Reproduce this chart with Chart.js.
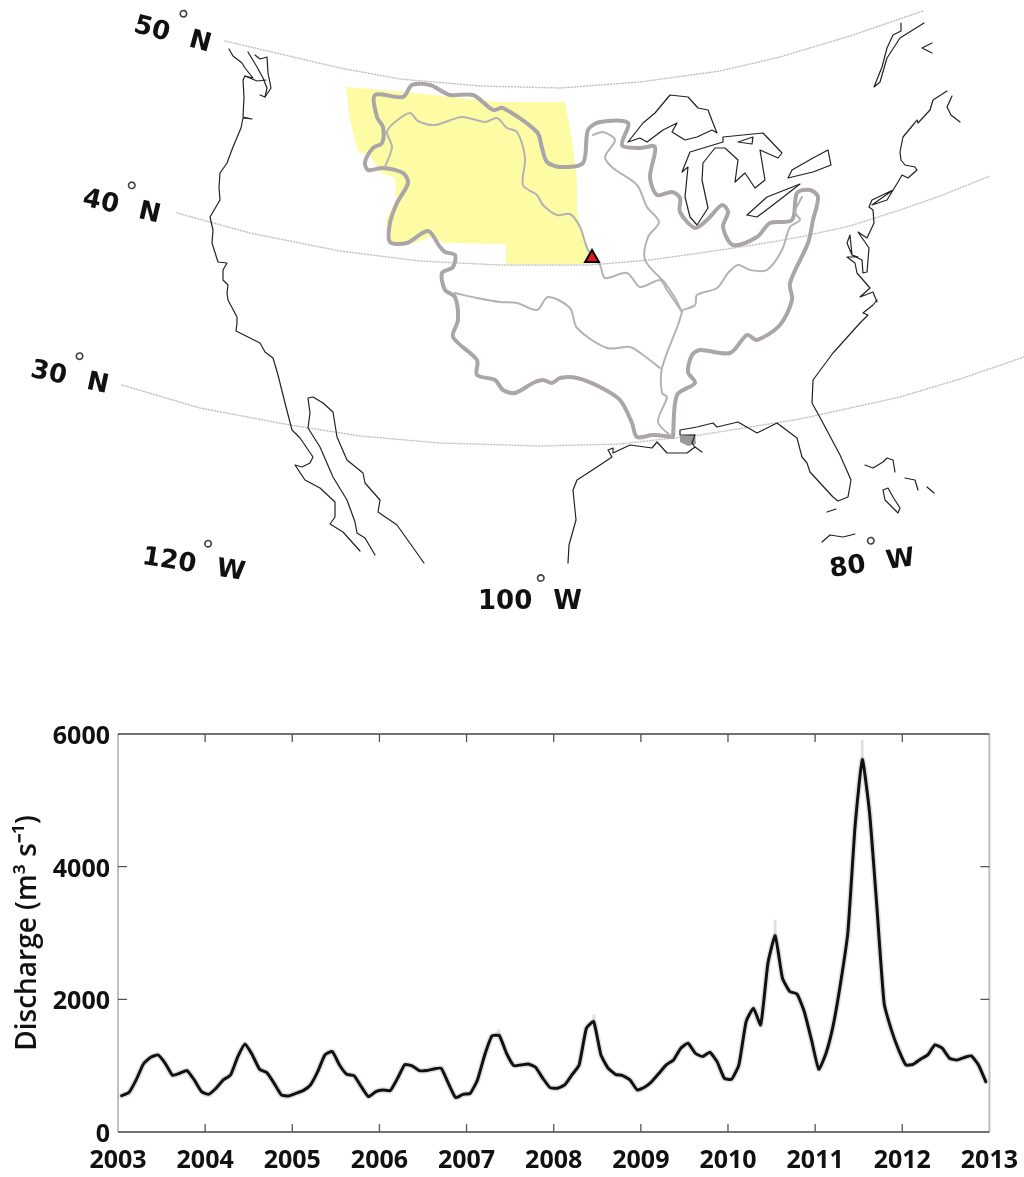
<!DOCTYPE html>
<html>
<head>
<meta charset="utf-8">
<title>Discharge</title>
<script src="https://cdn.jsdelivr.net/npm/chart.js@4/dist/chart.umd.min.js"></script>
<style>
  html, body { margin: 0; padding: 0; background: #fff; }
  #wrap { position: relative; width: 1024px; height: 1177px; overflow: hidden; }
  canvas { position: absolute; left: 0; filter: blur(0.5px); }
  #peta { top: 0; }
  #debit { top: 700px; }
</style>
</head>
<body>
<div id="wrap">
  <canvas id="peta" width="1024" height="700"></canvas>
  <canvas id="debit" width="1024" height="477"></canvas>
</div>
<script>
// monthly discharge, one list per year
const q2003 = [548, 594, 785, 1026, 1127, 1162, 1036, 855, 885, 926, 785, 609];
const q2004 = [568, 659, 785, 860, 1137, 1328, 1162, 946, 895, 734, 558, 543];
const q2005 = [583, 624, 709, 910, 1162, 1212, 1011, 870, 850, 684, 533, 609];
const q2006 = [634, 624, 810, 1016, 996, 926, 926, 951, 961, 734, 518, 568];
const q2007 = [583, 785, 1162, 1449, 1454, 1187, 1001, 1011, 1026, 976, 810, 669];
const q2008 = [659, 709, 860, 1011, 1564, 1665, 1162, 961, 870, 850, 785, 634];
const q2009 = [674, 760, 885, 1011, 1086, 1263, 1338, 1187, 1137, 1202, 1061, 810];
const q2010 = [795, 1011, 1665, 1866, 1615, 2545, 2958, 2319, 2118, 2082, 1816, 1388];
const q2011 = [946, 1187, 1615, 2243, 2998, 4607, 5613, 4809, 3400, 1942, 1539, 1237];
const q2012 = [1011, 1021, 1097, 1162, 1313, 1263, 1112, 1086, 1122, 1147, 1011, 760];
const qPerYear = [q2003, q2004, q2005, q2006, q2007, q2008, q2009, q2010, q2011, q2012];

// faint grey spread showing above the big peaks
const spreadYears = [2007.37, 2008.46, 2010.54, 2011.54];
const spreadLow = [1454, 1665, 2958, 5613];
const spreadHigh = [1530, 1760, 3180, 5900];

const yearTicks = [2003, 2004, 2005, 2006, 2007, 2008, 2009, 2010, 2011, 2012, 2013];
const dischargeTicks = [0, 2000, 4000, 6000];

// map outlines, in map units (x and y of the hidden map axes)
const parallel50 = [[225,41],[340,68],[400,79],[480,86],[560,88],[640,82],[720,71],[780,57],[850,36],[923,11]];
const parallel40 = [[177,213],[250,233],[340,251],[420,261],[500,265],[590,265],[650,260],[700,253],[760,244],[800,237],[850,226],[900,210],[940,196],[990,176]];
const parallel30 = [[122,385],[200,408],[290,425],[360,436],[440,443],[540,446],[620,444],[700,435],[800,419],[900,397],[960,379],[1024,357]];

const coastWest = [[229,49],[233,56],[242,63],[245,68],[253,78],[245,76],[243,80],[244,97],[243,117],[252,119],[243,118],[241,128],[233,147],[227,163],[220,173],[219,187],[220,200],[210,217],[213,230],[212,243],[218,262],[227,263],[223,270],[223,280],[228,285],[227,293],[228,300],[237,317],[237,323],[236,331],[260,343],[265,352],[273,358],[278,375],[285,403],[292,430],[300,438],[313,457],[310,463],[302,467],[295,465],[305,480],[320,488],[335,502],[335,517],[330,524],[343,532],[360,551]];
const puget = [[248,52],[257,67],[263,78],[267,88],[265,97],[260,95]];
const puget2 = [[255,55],[260,59],[267,57],[268,73],[271,88],[265,97]];
const puget3 = [[245,76],[257,81],[266,80]];
const baja = [[375,555],[365,538],[357,533],[355,522],[347,500],[333,477],[320,447],[308,428],[310,413],[308,398],[313,397],[323,403],[333,412],[337,437],[347,460],[363,473],[365,483],[380,500],[378,512],[397,525],[424,563]];
const coastGulf = [[568,563],[569,545],[576,520],[573,490],[577,480],[597,467],[612,457],[608,450],[613,448],[613,453],[630,445],[652,448],[657,442],[667,453],[687,453],[695,447],[702,452],[695,447],[692,443],[695,435],[680,435],[680,430],[697,427],[713,423],[717,427],[738,422],[757,433],[777,423],[797,438],[802,457],[807,463],[810,472],[833,497],[838,501],[848,497],[851,480],[840,455],[823,423],[812,403],[813,380],[833,353],[860,323],[868,315],[863,313],[873,305],[877,300]];
const coastEast = [[877,302],[873,292],[860,297],[870,288],[857,273],[855,263],[847,257],[858,257],[852,255],[847,243],[850,235],[852,255],[862,260],[863,273],[867,272],[869,248],[858,232],[867,238],[874,223],[873,210],[869,207],[872,200],[893,190],[887,200],[872,205],[893,190],[898,182],[902,175],[908,178],[917,170],[915,167],[905,165],[901,160],[900,152],[903,137],[913,125],[917,120],[918,123],[930,110],[933,100],[947,91]];
const novaScotia = [[952,96],[947,107],[951,115],[960,122]];
const newfoundland = [[932,43],[922,48],[932,53]];
const labrador = [[901,23],[901,31],[893,35],[887,48],[882,67],[874,87],[880,82],[887,58],[900,38],[924,23]];
const bahamas1 = [[865,465],[873,468],[883,462],[887,458],[893,460],[895,472]];
const bahamas2 = [[905,478],[915,480],[918,490]];
const bahamas3 = [[927,487],[934,493]];
const andros = [[883,490],[888,488],[893,497],[900,508],[898,513],[885,500],[883,490]];
const keys = [[827,512],[836,509]];
const cuba = [[822,542],[830,535],[843,537],[855,534]];

const lakeSuperior = [[628,142],[643,123],[655,113],[670,95],[688,97],[698,108],[708,110],[713,123],[717,133],[712,130],[697,137],[685,140],[672,132],[677,123],[663,130],[647,142],[640,138],[628,142]];
const lakeMichiganHuron = [[682,172],[690,152],[723,142],[723,137],[763,133],[782,153],[778,158],[760,150],[765,180],[755,188],[745,173],[735,182],[738,160],[725,148],[715,148],[703,163],[702,180],[708,208],[697,225],[690,217],[685,197],[688,167],[682,172]];
const manitoulin = [[738,142],[753,137],[752,144],[738,142]];
const lakeErie = [[747,215],[767,197],[800,184],[773,205],[757,217],[747,215]];
const lakeOntario = [[788,178],[792,170],[813,158],[828,150],[831,165],[813,172],[788,178]];

// yellow area upstream of the gauge
const yellowArea = [[346,87],[405,92],[498,102],[565,102],[572,140],[577,180],[577,213],[590,255],[590,264],[506,264],[506,244],[445,243],[430,237],[415,243],[388,244],[386,220],[396,200],[395,178],[380,172],[370,155],[358,152],[350,120]];
const deltaPatch = [[680,436],[695,434],[696,444],[688,446],[680,442]];

const basinEdge = [[673,437],[653,435],[637,437],[632,423],[620,400],[600,387],[577,378],[560,378],[552,383],[543,380],[533,383],[515,393],[503,390],[495,380],[477,375],[477,360],[453,337],[458,320],[455,297],[445,290],[442,273],[453,267],[455,255],[445,252],[440,247],[428,231],[407,243],[390,242],[390,223],[397,203],[408,183],[403,173],[383,168],[368,170],[365,162],[373,148],[382,143],[383,127],[377,117],[375,95],[403,97],[412,85],[430,85],[450,95],[473,95],[493,110],[503,108],[537,132],[542,148],[547,162],[560,167],[583,163],[588,130],[600,122],[628,123],[622,145],[640,148],[655,147],[650,177],[657,195],[672,192],[680,198],[680,212],[695,228],[707,220],[722,205],[728,212],[723,227],[733,245],[757,237],[770,223],[792,220],[797,193],[810,190],[818,197],[813,220],[808,243],[790,283],[792,300],[780,325],[757,340],[747,335],[730,353],[700,350],[692,355],[688,372],[695,383],[677,395],[673,437]];

const riverMissouri = [[385,167],[392,147],[387,132],[395,122],[410,113],[418,121],[435,125],[462,117],[485,122],[497,118],[507,128],[517,132],[525,158],[523,185],[537,195],[543,205],[557,215],[570,214],[580,227],[588,250],[600,265],[605,278],[627,273],[640,287],[660,280],[667,290],[682,312]];
const riverUpper = [[593,135],[603,132],[615,140],[605,157],[613,168],[637,185],[647,207],[659,222],[648,237],[645,260],[665,283],[675,298],[682,312]];
const riverLower = [[682,312],[678,325],[662,368],[662,393],[667,397],[658,422],[672,437]];
const riverOhio = [[683,310],[695,305],[697,295],[717,288],[728,273],[738,265],[750,270],[767,270],[782,250],[790,227],[800,220],[795,212],[802,197]];
const riverArkansas = [[455,293],[477,298],[500,302],[517,303],[537,310],[548,297],[570,308],[577,328],[607,348],[630,347],[643,355],[660,368]];

const gauge = [[592,258]];

const labelNomor = ['50', '40', '30', '120', '100', '80'];
const labelHuruf = ['N', 'N', 'N', 'W', 'W', 'W'];
const labelPlace = [[173,33],[122,205],[70,376],[194,563],[530,600],[872,562]];
const labelTilt = [15, 13, 12, 9, 0, -8];

const warnaPantai = '#222';
const warnaDas = '#a9a5a9';
const warnaSungai = '#b4b2b4';
const warnaGraticule = '#c4c4c4';

// helper, one outline per dataset
function garis(data, warna, tebal, extra) {
  return Object.assign({
    data: data,
    showLine: true,
    borderColor: warna,
    borderWidth: tebal,
    pointRadius: 0,
    borderJoinStyle: 'round',
    borderCapStyle: 'round',
    tension: 0,
    fill: false
  }, extra || {});
}

const kumpulanPantai = [coastWest, puget, puget2, puget3, baja, coastGulf, coastEast, novaScotia, newfoundland, labrador,
  bahamas1, bahamas2, bahamas3, andros, keys, cuba, lakeSuperior, lakeMichiganHuron, manitoulin, lakeErie, lakeOntario];
const kumpulanSungai = [riverMissouri, riverUpper, riverLower, riverOhio, riverArkansas];

// labels on the map, placed with the map's own scales
const labelPeta = {
  id: 'labelPeta',
  afterDatasetsDraw(chart) {
    const { ctx, scales } = chart;
    labelNomor.forEach((nomor, i) => {
      ctx.save();
      ctx.translate(scales.x.getPixelForValue(labelPlace[i][0]), scales.y.getPixelForValue(labelPlace[i][1]));
      ctx.rotate(labelTilt[i] * Math.PI / 180);
      ctx.fillStyle = '#111';
      ctx.textAlign = 'left';
      ctx.textBaseline = 'alphabetic';
      ctx.font = "bold 26px 'DejaVu Sans', sans-serif";
      const lebarNomor = ctx.measureText(nomor).width;
      const lebarHuruf = ctx.measureText(labelHuruf[i]).width;
      const total = lebarNomor + 21 + lebarHuruf;
      ctx.fillText(nomor, -total / 2, 9);
      ctx.fillText(labelHuruf[i], -total / 2 + lebarNomor + 21, 9);
      // the degree ring sits on its own, raised above the digits
      ctx.font = "26px 'DejaVu Sans', sans-serif";
      ctx.fillStyle = '#444';
      ctx.fillText('°', -total / 2 + lebarNomor + 2, -6);
      ctx.restore();
    });
  }
};

new Chart(document.getElementById('peta'), {
  type: 'scatter',
  data: {
    datasets: [
      garis(gauge, '#000', 2, { showLine: false, pointStyle: 'triangle', pointRadius: 8, pointBorderWidth: 2, pointBackgroundColor: '#e2141c', pointBorderColor: '#000', order: 0 }),
      ...kumpulanPantai.map(d => garis(d, warnaPantai, 1.2, { order: 1 })),
      ...kumpulanSungai.map(d => garis(d, warnaSungai, 2, { order: 2, tension: 0.3 })),
      garis(basinEdge, warnaDas, 4, { order: 3, tension: 0.3 }),
      garis(deltaPatch, '#999', 0, { fill: 'shape', backgroundColor: '#999', order: 3 }),
      garis(parallel50, warnaGraticule, 1.5, { borderDash: [1, 2], order: 4 }),
      garis(parallel40, warnaGraticule, 1.5, { borderDash: [1, 2], order: 4 }),
      garis(parallel30, warnaGraticule, 1.5, { borderDash: [1, 2], order: 4 }),
      garis(yellowArea, '#fdfca4', 0, { fill: 'shape', backgroundColor: '#fdfca4', order: 5 })
    ]
  },
  options: {
    responsive: false,
    animation: false,
    events: [],
    layout: { padding: 0, autoPadding: false },
    plugins: { legend: { display: false }, tooltip: { enabled: false } },
    scales: {
      x: { type: 'linear', display: false, min: 0, max: 1024 },
      y: { type: 'linear', display: false, min: 0, max: 700, reverse: true }
    }
  },
  plugins: [labelPeta]
});

// frame with inward ticks, the library only gives outward ones
const bingkai = {
  id: 'bingkai',
  afterDatasetsDraw(chart) {
    const { ctx, chartArea: a, scales } = chart;
    ctx.save();
    ctx.lineWidth = 2;
    ctx.strokeStyle = '#c0c0c0';
    ctx.beginPath();
    ctx.moveTo(a.left, a.top); ctx.lineTo(a.left, a.bottom);
    ctx.moveTo(a.right, a.top); ctx.lineTo(a.right, a.bottom);
    ctx.stroke();
    ctx.lineWidth = 1.3;
    ctx.strokeStyle = '#444';
    ctx.beginPath();
    ctx.moveTo(a.left, a.top); ctx.lineTo(a.right, a.top);
    ctx.moveTo(a.left, a.bottom); ctx.lineTo(a.right, a.bottom);
    ctx.stroke();
    ctx.strokeStyle = '#555';
    ctx.beginPath();
    yearTicks.slice(1, -1).forEach(v => {
      const x = scales.x.getPixelForValue(v);
      ctx.moveTo(x, a.top); ctx.lineTo(x, a.top + 8);
      ctx.moveTo(x, a.bottom); ctx.lineTo(x, a.bottom - 8);
    });
    dischargeTicks.slice(1, -1).forEach(v => {
      const y = scales.y.getPixelForValue(v);
      ctx.moveTo(a.left, y); ctx.lineTo(a.left + 9, y);
      ctx.moveTo(a.right, y); ctx.lineTo(a.right - 9, y);
    });
    ctx.stroke();
    ctx.restore();
  }
};

const titikDebit = [];
qPerYear.forEach((nilai, i) => {
  nilai.forEach((q, bulan) => titikDebit.push({ x: yearTicks[i] + (bulan + 0.5) / 12, y: q }));
});
const titikSpread = [];
spreadYears.forEach((x, i) => {
  titikSpread.push({ x: x, y: spreadLow[i] }, { x: x, y: spreadHigh[i] }, { x: x, y: null });
});

const fontSumbu = { family: "'Open Sans', sans-serif", size: 25, weight: 'bold' };

new Chart(document.getElementById('debit'), {
  type: 'scatter',
  data: {
    datasets: [
      garis(titikDebit, '#111', 3, { order: 0, tension: 0.15 }),
      garis(titikDebit, 'rgba(0,0,0,0.12)', 6, { order: 1, tension: 0.15 }),
      garis(titikSpread, 'rgba(0,0,0,0.12)', 3, { order: 2, spanGaps: false })
    ]
  },
  options: {
    responsive: false,
    animation: false,
    events: [],
    layout: { padding: { left: 0, right: 34, top: 34, bottom: 0 } },
    plugins: { legend: { display: false }, tooltip: { enabled: false } },
    scales: {
      x: {
        type: 'linear',
        min: 2003,
        max: 2013,
        grid: { display: false },
        border: { display: false },
        afterBuildTicks: s => { s.ticks = yearTicks.map(v => ({ value: v })); },
        afterFit: s => { s.height = 45; },
        ticks: { color: '#111', font: fontSumbu, padding: 6, maxRotation: 0, autoSkip: false, callback: v => String(v) }
      },
      y: {
        type: 'linear',
        min: 0,
        max: 6000,
        grid: { display: false },
        border: { display: false },
        afterBuildTicks: s => { s.ticks = dischargeTicks.map(v => ({ value: v })); },
        afterFit: s => { s.width = 118; },
        title: { display: true, text: 'Discharge (m³ s⁻¹)', color: '#111', font: { family: "'Open Sans', sans-serif", size: 28, weight: '600' }, padding: { top: 11, bottom: 0 } },
        ticks: { color: '#111', font: fontSumbu, padding: 0, labelOffset: 3, autoSkip: false, callback: v => String(v) }
      }
    }
  },
  plugins: [bingkai]
});
</script>
</body>
</html>
